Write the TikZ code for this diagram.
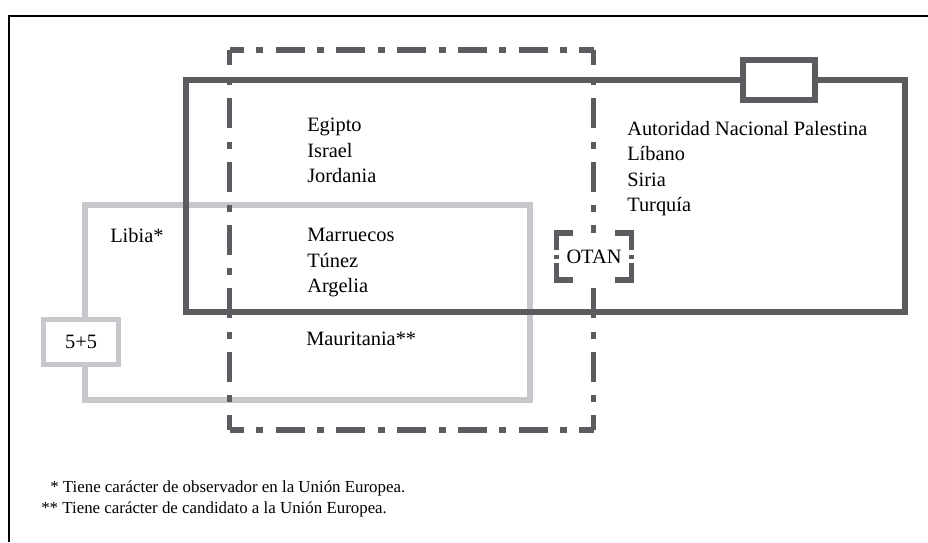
\documentclass[tikz,border=0pt]{standalone}
\usepackage{fontspec}
\setmainfont{Liberation Serif}
\usepackage{xcolor}
\usetikzlibrary{calc}
\definecolor{boxdark}{RGB}{92,92,96}
\definecolor{boxlight}{RGB}{200,200,204}

\begin{document}
\begin{tikzpicture}[x=0.025cm, y=-0.025cm]
  % Styles
  \tikzstyle{country}=[inner sep=0pt, align=left, font=\fontsize{14.5}{18.1}\selectfont]
  \tikzstyle{note}=[inner sep=0pt, font=\fontsize{12}{14.5}\selectfont]
  \tikzstyle{darkline}=[draw=boxdark, line width=4.2pt]
  \tikzstyle{lightline}=[draw=boxlight, line width=4pt]
  \tikzstyle{ddh}=[draw=boxdark, line width=4pt, dash pattern=on 20.63pt off 8.77pt on 4.98pt off 8.8pt, dash phase=10.31pt]
  \tikzstyle{ddv}=[draw=boxdark, line width=4pt, dash pattern=on 21.34pt off 9.37pt on 4.98pt off 9.37pt, dash phase=10.67pt]
  \tikzstyle{tag}=[fill=white, inner sep=0pt, outer sep=0pt, font=\fontsize{14.5}{18.1}\selectfont]
  \tikzstyle{otanline}=[draw=boxdark, line width=4.2pt]

  \useasboundingbox (0,0) rectangle (928,542);

  % Frame
  \draw[line width=1.8pt] (9,542) -- (9,16) -- (928,16);

  % Light box (5+5) and dark box
  \draw[lightline] (85,205) rectangle (530,400);
  \draw[darkline] (186,80) rectangle (905,312);

  % Dash-dot box
  \coordinate (dd_nw) at (229.5,50);
  \coordinate (dd_ne) at (593.5,50);
  \coordinate (dd_sw) at (229.5,430);
  \coordinate (dd_se) at (593.5,430);
  \draw[ddh] (dd_nw) -- (dd_ne);
  \draw[ddh] (dd_sw) -- (dd_se);
  \draw[ddv] (dd_nw) -- (dd_sw);
  \draw[ddv] (dd_ne) -- (dd_se);

  % Small boxes on the lines
  \node[tag, draw=boxdark, line width=4.2pt, minimum width=51.2pt, minimum height=28.5pt] (tab) at (779,80) {};
  \node[tag, draw=boxlight, line width=3.6pt, minimum width=54pt, minimum height=32pt] (fivefive) at (81,342) {5+5};
  \node[tag, minimum width=53.3pt, minimum height=33.4pt] (otan) at (594,256.5) {OTAN};
  \draw[otanline] ($(otan.north west)+(0,17)$) -- (otan.north west) -- ++(16,0);
  \draw[otanline] ($(otan.north east)+(-16,0)$) -- (otan.north east) -- ++(0,17);
  \draw[otanline] ($(otan.south east)+(0,-17)$) -- (otan.south east) -- ++(-16,0);
  \draw[otanline] ($(otan.south west)+(16,0)$) -- (otan.south west) -- ++(0,-17);
  \draw[otanline] ($(otan.west)+(0,-2)$) -- ++(0,4);
  \draw[otanline] ($(otan.east)+(0,-2)$) -- ++(0,4);

  % Countries
  \node[country, anchor=north west] (east) at (307,118) {Egipto\\Israel\\Jordania};
  \node[country, anchor=north west] (maghreb) at (307,228) {Marruecos\\Túnez\\Argelia};
  \node[country, anchor=base west] (mauritania) at (306,345) {Mauritania**};
  \node[country, anchor=base west] (libia) at (110,242) {Libia*};
  \node[country, anchor=north west] (levant) at (627,121) {Autoridad Nacional Palestina\\Líbano\\Siria\\Turquía};

  % Footnotes
  \node[note, anchor=base west] (note1) at (50,492) {* Tiene carácter de observador en la Unión Europea.};
  \node[note, anchor=base west] (note2) at (41,513) {** Tiene carácter de candidato a la Unión Europea.};
\end{tikzpicture}
\end{document}
